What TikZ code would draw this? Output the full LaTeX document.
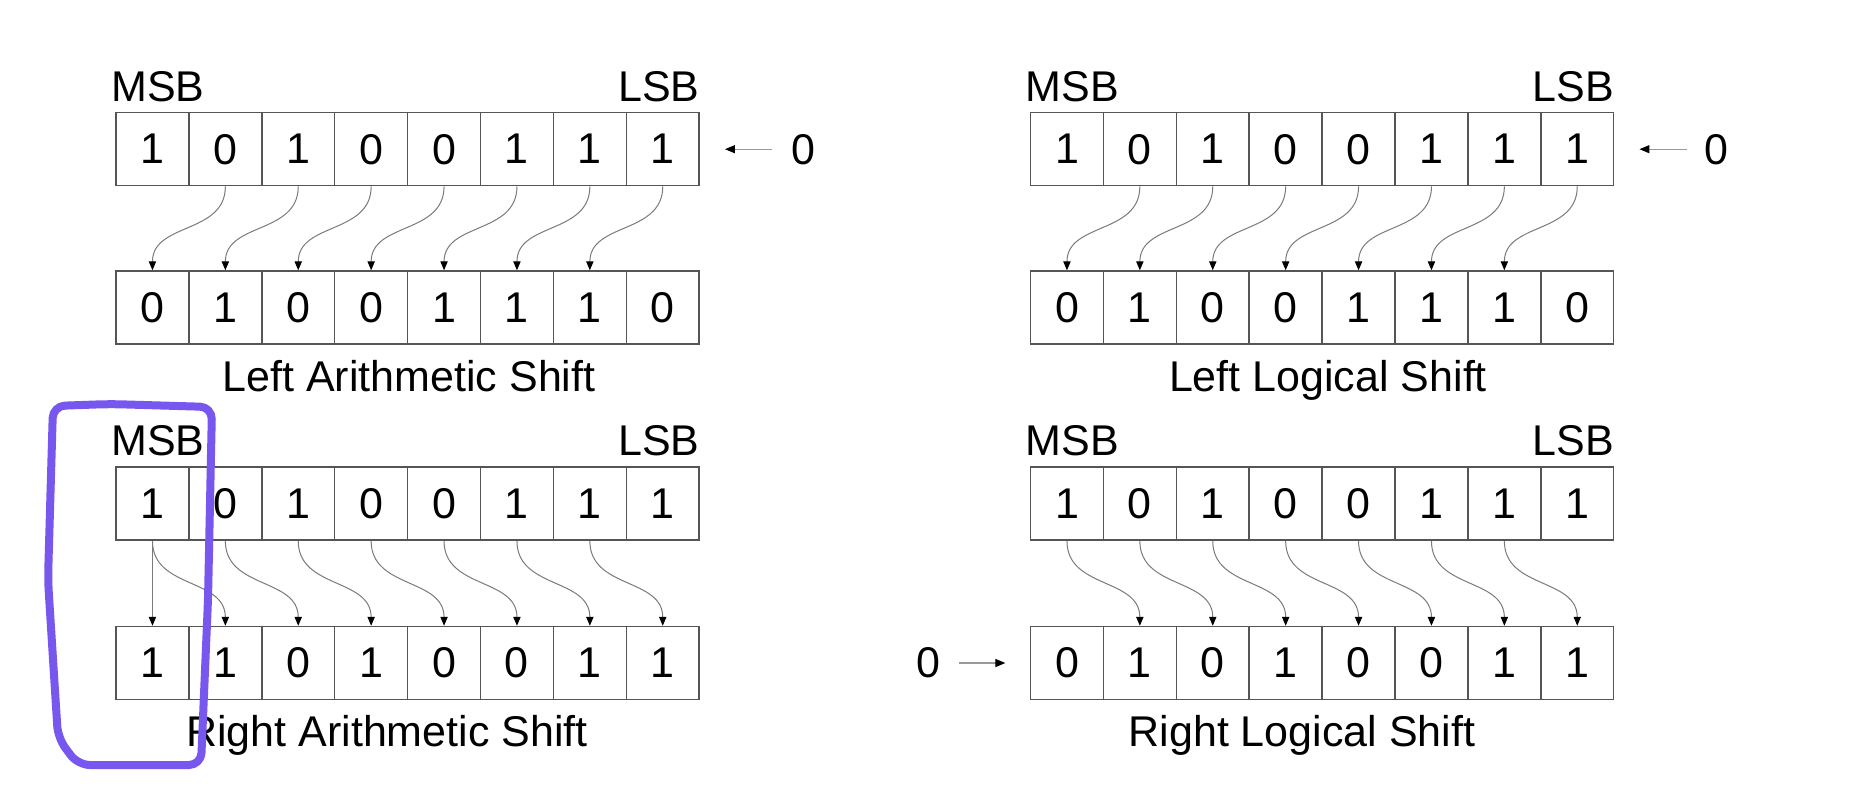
\documentclass[tikz,border=0pt]{standalone}
\usepackage{fontspec}
\setmainfont{Liberation Sans}
\usetikzlibrary{arrows.meta}
\definecolor{boxgray}{HTML}{555555}
\definecolor{linegray}{HTML}{7A7A7A}
\definecolor{sidegray}{HTML}{999999}
\definecolor{markpurple}{HTML}{7857EE}
\newcommand{\fs}{\fontsize{21.5pt}{26pt}\selectfont}
% #1 name prefix, #2 left x, #3 centre y, #4 digits
\newcommand{\bitreg}[4]{%
  \foreach \d [count=\i] in {#4} {%
    \node[cell] (#1\i) at ({#2+(\i-0.5)*72.9}, #3) {\d};
  }%
}
\begin{document}
\begin{tikzpicture}[x=0.5pt,y=-0.5pt,
  cell/.style={draw=boxgray, line width=0.75pt, minimum width=36.45pt,
               minimum height=36.5pt, inner sep=0pt, font=\fs},
  lbl/.style={inner sep=0pt, font=\fs},
  conn/.style={draw=linegray, line width=0.5pt,
               -{Triangle[length=4.4pt,width=3.6pt,color=black]}},
  side/.style={draw=sidegray, line width=0.6pt,
               -{Triangle[length=5pt,width=4pt,color=black]}},
  ]
\useasboundingbox (0,0) rectangle (1852,788);

% ---------- Left Arithmetic Shift ----------
\bitreg{LAt}{116}{149.2}{1,0,1,0,0,1,1,1}
\bitreg{LAb}{116}{307.5}{0,1,0,0,1,1,1,0}
\node[lbl, anchor=base west] (LAmsb) at (111,101.7) {MSB};
\node[lbl, anchor=base east] (LAlsb) at (700,101.7) {LSB};
\node[lbl, anchor=base] (LAtitle) at (409,391.5) {Left Arithmetic Shift};
\node[lbl] (LAz) at (803.3,149.2) {0};
\draw[side, shorten <=9.3pt, shorten >=12.5pt] (LAz) -- (LAt8);
\foreach \i in {2,...,8} {%
  \pgfmathtruncatemacro{\j}{\i-1}
  \draw[conn] (LAt\i.south) .. controls +(0,48) and +(0,-48) .. (LAb\j.north);
}

% ---------- Left Logical Shift ----------
\bitreg{LLt}{1030.5}{149.2}{1,0,1,0,0,1,1,1}
\bitreg{LLb}{1030.5}{307.5}{0,1,0,0,1,1,1,0}
\node[lbl, anchor=base west] (LLmsb) at (1025.5,101.7) {MSB};
\node[lbl, anchor=base east] (LLlsb) at (1614.2,101.7) {LSB};
\node[lbl, anchor=base] (LLtitle) at (1328,391.5) {Left Logical Shift};
\node[lbl] (LLz) at (1716.7,149.2) {0};
\draw[side, shorten <=8.5pt, shorten >=12.5pt] (LLz) -- (LLt8);
\foreach \i in {2,...,8} {%
  \pgfmathtruncatemacro{\j}{\i-1}
  \draw[conn] (LLt\i.south) .. controls +(0,48) and +(0,-48) .. (LLb\j.north);
}

% ---------- Right Arithmetic Shift ----------
\bitreg{RAt}{116}{503.7}{1,0,1,0,0,1,1,1}
\bitreg{RAb}{116}{663}{1,1,0,1,0,0,1,1}
\node[lbl, anchor=base west] (RAmsb) at (111,455.5) {MSB};
\node[lbl, anchor=base east] (RAlsb) at (700,455.5) {LSB};
\node[lbl, anchor=base] (RAtitle) at (387,746.7) {Right Arithmetic Shift};
\draw[conn] (RAt1.south) -- (RAb1.north);
\foreach \i in {1,...,7} {%
  \pgfmathtruncatemacro{\j}{\i+1}
  \draw[conn] (RAt\i.south) .. controls +(0,48) and +(0,-48) .. (RAb\j.north);
}

% ---------- Right Logical Shift ----------
\bitreg{RLt}{1030.5}{503.7}{1,0,1,0,0,1,1,1}
\bitreg{RLb}{1030.5}{663}{0,1,0,1,0,0,1,1}
\node[lbl, anchor=base west] (RLmsb) at (1025.5,455.5) {MSB};
\node[lbl, anchor=base east] (RLlsb) at (1614.2,455.5) {LSB};
\node[lbl, anchor=base] (RLtitle) at (1302,746.7) {Right Logical Shift};
\node[lbl] (RLz) at (928.5,663) {0};
\draw[side, shorten <=8.9pt, shorten >=12.2pt] (RLz) -- (RLb1);
\foreach \i in {1,...,7} {%
  \pgfmathtruncatemacro{\j}{\i+1}
  \draw[conn] (RLt\i.south) .. controls +(0,48) and +(0,-48) .. (RLb\j.north);
}

% ---------- hand-drawn highlight ----------
\draw[markpurple, line width=4pt, rounded corners=6pt, line join=round, line cap=round]
  (110,404) -- (212,407) -- (208,600) -- (201,765) -- (78,765)
  -- (58,738) -- (48,580) -- (53,406) -- cycle;
\end{tikzpicture}
\end{document}
